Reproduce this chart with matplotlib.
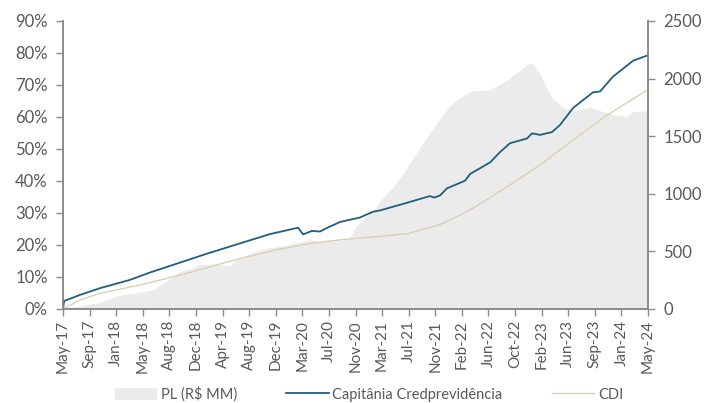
import matplotlib
matplotlib.use("Agg")
import matplotlib.pyplot as plt
from matplotlib.patches import Patch
from matplotlib.lines import Line2D

plt.rcParams['font.family'] = ['Lato', 'DejaVu Sans']

# x tick labels (evenly spaced category ticks)
tick_labels = ["May-17", "Sep-17", "Jan-18", "May-18", "Aug-18", "Dec-18", "Apr-19",
               "Aug-19", "Dec-19", "Mar-20", "Jul-20", "Nov-20", "Mar-21", "Jul-21",
               "Nov-21", "Feb-22", "Jun-22", "Oct-22", "Feb-23", "Jun-23", "Sep-23",
               "Jan-24", "May-24"]

# Capitania Credprevidencia cumulative return (%), position in tick units
cap_x = [0.00, 0.04, 0.64, 1.39, 2.52, 3.27, 4.40, 5.27, 6.54, 7.78, 8.84, 9.03,
         9.36, 9.66, 9.97, 10.42, 11.17, 11.66, 11.92, 12.94, 13.80, 13.95, 14.18,
         14.44, 15.12, 15.31, 16.06, 16.43, 16.81, 17.45, 17.64, 17.94, 18.39,
         18.69, 19.18, 19.56, 19.93, 20.20, 20.68, 21.44, 22.00]
cap_y = [0.0, 2.5, 4.4, 6.5, 9.1, 11.4, 14.5, 16.9, 20.2, 23.4, 25.4, 23.3,
         24.4, 24.2, 25.5, 27.2, 28.6, 30.4, 30.8, 33.2, 35.3, 34.8, 35.5,
         37.7, 40.1, 42.2, 45.8, 49.0, 51.8, 53.3, 54.9, 54.4, 55.3,
         57.5, 62.8, 65.3, 67.7, 68.0, 72.6, 77.6, 79.3]

# CDI cumulative return (%)
cdi_x = [0.00, 0.64, 1.39, 2.90, 4.40, 6.54, 7.97, 9.29, 10.42, 11.66, 12.94,
         14.18, 14.80, 15.42, 16.70, 17.94, 19.18, 20.46, 22.00]
cdi_y = [0.0, 2.8, 4.9, 7.5, 10.6, 15.5, 18.4, 20.5, 21.6, 22.5, 23.5,
         26.4, 28.8, 31.5, 38.2, 45.0, 52.8, 60.6, 68.6]

# PL (R$ MM), right axis
pl_x = [0.00, 0.64, 1.39, 2.03, 2.90, 3.38, 4.02, 4.40, 4.78, 5.15, 5.64, 6.28,
        6.54, 7.03, 7.52, 8.42, 9.03, 9.29, 9.66, 10.15, 10.68, 10.79, 11.06,
        11.66, 11.92, 12.41, 12.94, 13.43, 14.07, 14.56, 15.04, 15.42, 16.06,
        16.70, 17.21, 17.45, 17.68, 17.94, 18.39, 18.88, 19.18, 19.82, 20.20,
        20.68, 21.19, 21.44, 22.00]
pl_y = [0, 29, 57, 115, 144, 165, 260, 325, 350, 390, 390, 376,
        430, 480, 521, 556, 590, 605, 587, 590, 599, 622, 730,
        853, 940, 1056, 1229, 1403, 1620, 1770, 1852, 1895, 1900,
        1990, 2075, 2127, 2130, 2040, 1830, 1740, 1721, 1750, 1721,
        1687, 1669, 1715, 1721]

blue = '#205E80'
beige = '#D9D1B3'
fill = '#EBEBEB'
txt = '#595959'
spine = '#8C8C8C'

fig = plt.figure(figsize=(7.05, 4.03), dpi=100)
ax = fig.add_axes([0.0894, 0.2333, 0.8298, 0.7146])
ax2 = ax.twinx()
ax.set_zorder(ax2.get_zorder() + 1)
ax.patch.set_visible(False)

ax2.fill_between(pl_x, 0, pl_y, color=fill, linewidth=0)
ax.plot(cdi_x, cdi_y, color=beige, linewidth=1.0)
ax.plot(cap_x, cap_y, color=blue, linewidth=1.3)

ax.set_xlim(0, 22)
ax.set_ylim(0, 90)
ax2.set_ylim(0, 2500)
ax.set_yticks(range(0, 91, 10))
ax.set_yticklabels([f"{v}%" for v in range(0, 91, 10)])
ax2.set_yticks(range(0, 2501, 500))
ax.set_xticks(range(len(tick_labels)))
ax.set_xticklabels(tick_labels, rotation=90)

for a in (ax, ax2):
    a.spines['top'].set_visible(False)
    for s in ('left', 'right', 'bottom'):
        a.spines[s].set_color(spine)
        a.spines[s].set_linewidth(1.2)
ax.tick_params(axis='y', length=5, width=1.0, color=spine, labelcolor=txt,
               labelsize=12, pad=6)
ax2.tick_params(axis='y', length=5, width=1.0, color=spine, labelcolor=txt,
                labelsize=12, pad=6)
ax.tick_params(axis='x', length=5, width=1.0, color=spine, labelcolor=txt,
               labelsize=11, pad=3)

handles = [Patch(facecolor=fill, edgecolor='none'),
           Line2D([], [], color=blue, linewidth=1.3),
           Line2D([], [], color=beige, linewidth=1.0)]
labels = ["PL (R$ MM)", "Capitânia Credprevidência", "CDI"]
fig.legend(handles, labels, loc='center', bbox_to_anchor=(369 / 705, 1 - 394 / 403),
           ncol=3, frameon=False, fontsize=10.5, labelcolor=txt,
           handlelength=2.9, handleheight=0.9, handletextpad=0.25,
           columnspacing=3.4, borderaxespad=0)

fig.savefig("out.png", dpi=100)
